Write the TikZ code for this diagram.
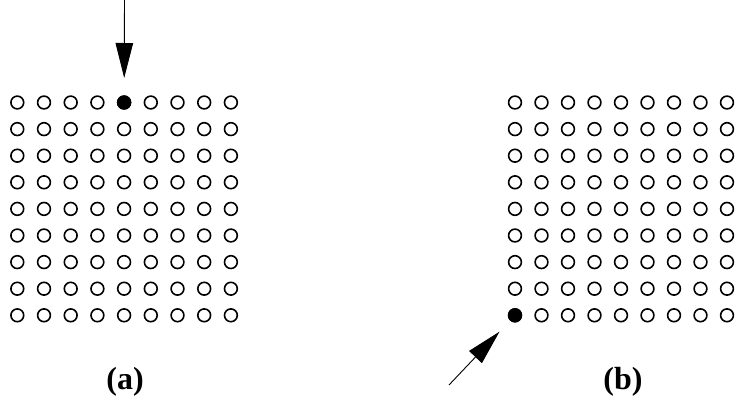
\documentclass[tikz,border=0pt]{standalone}
\usepackage{fontspec}
\setmainfont{Liberation Serif}
\usetikzlibrary{arrows.meta}
\begin{document}
\begin{tikzpicture}[x=1pt,y=-1pt,
  site/.style={circle,draw=black,line width=1.6pt,minimum size=12.8pt,inner sep=0pt,fill=white},
  filled/.style={site,fill=black},
  probe/.style={line width=0.9pt,-{Triangle[length=35pt,width=17.5pt]}},
  lab/.style={font=\fontsize{32}{34}\selectfont\bfseries}]
\useasboundingbox (0,0) rectangle (739,418);
\foreach \i in {0,...,8}{
  \foreach \j in {0,...,8}{
    \node[site] (a-\i-\j) at ({17.3+26.7*\i},{102.5+26.6*\j}) {};
    \node[site] (b-\i-\j) at ({515+26.5*\i},{102.5+26.6*\j}) {};
  }
}
\node[filled] at (a-4-0) {};
\node[filled] at (b-0-8) {};
\coordinate (pa) at (124.5,0);
\coordinate (pb) at (449,385);
\draw[probe,shorten >=24.5pt] (pa) -- (a-4-0.center);
\draw[probe,shorten >=22.5pt] (pb) -- (b-0-8.center);
\node[lab] (la) at (125,382) {(a)};
\node[lab] (lb) at (623,382) {(b)};
\end{tikzpicture}
\end{document}
